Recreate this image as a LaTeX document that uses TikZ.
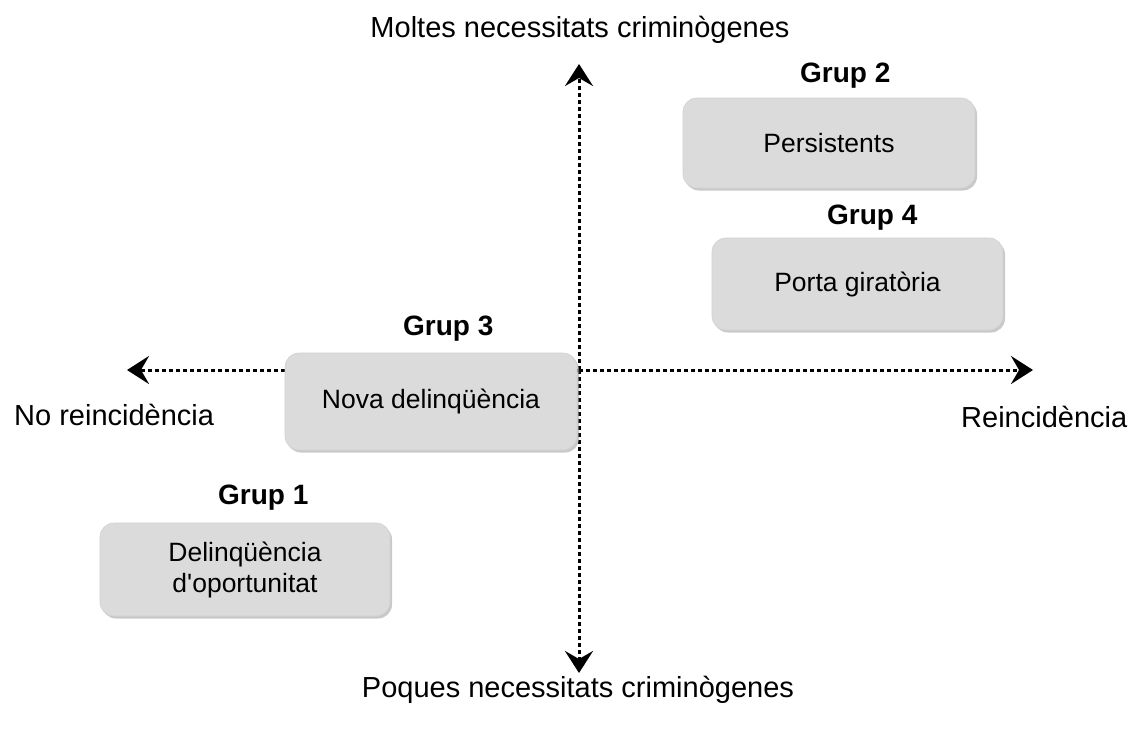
\documentclass[tikz,border=0pt]{standalone}
\usepackage{fontspec}
\setmainfont{Liberation Sans}
\usetikzlibrary{arrows.meta,shadows}
\begin{document}
\begin{tikzpicture}[x=1pt,y=-1pt,
  axis/.style={line width=3pt,dash pattern=on 4pt off 3pt,-{Stealth[length=22pt,width=28pt,inset=8pt]}},
  grbox/.style={fill=black!14,draw=black!18,line width=0.6pt,rounded corners=14pt,
    drop shadow={shadow xshift=2pt,shadow yshift=-2.5pt,fill=black!35,opacity=0.6},
    font=\fontsize{26.5}{31}\selectfont,align=center,inner sep=0pt},
  grtitle/.style={font=\bfseries\fontsize{28}{32}\selectfont,inner sep=0pt,anchor=west},
  lbl/.style={font=\fontsize{29}{33}\selectfont,inner sep=0pt}]
\useasboundingbox (0,0) rectangle (1130,729);
\fill[white] (0,0) rectangle (1130,729);
% axes
\coordinate (c) at (579,370);
\coordinate (top) at (579,64);
\coordinate (bot) at (579,673);
\coordinate (lft) at (127,370);
\coordinate (rgt) at (1033,370);
\draw[axis] (c) -- (top);
\draw[axis] (c) -- (bot);
\draw[axis] (c) -- (lft);
\draw[axis] (c) -- (rgt);
% boxes
\node[grbox,minimum width=292pt,minimum height=90pt] (g2) at (829,143) {Persistents};
\node[grtitle] (t2) at (800,76) {Grup 2};
\node[grbox,minimum width=291pt,minimum height=92pt] (g4) at (857.5,284) {Porta giratòria};
\node[grtitle] (t4) at (827,218) {Grup 4};
\node[grbox,minimum width=292pt,minimum height=97pt] (g3) at (431,401.5) {Nova delinqüència};
\node[grtitle] (t3) at (403,329) {Grup 3};
\node[grbox,minimum width=290pt,minimum height=93pt] (g1) at (245,569.5) {Delinqüència\\d\textquotesingle oportunitat};
\node[grtitle] (t1) at (218,498) {Grup 1};
% axis labels
\node[lbl] (ltop) at (580,30) {Moltes necessitats criminògenes};
\node[lbl] (lbot) at (578,690) {Poques necessitats criminògenes};
\node[lbl,anchor=west] (llft) at (14,415) {No reincidència};
\node[lbl,anchor=west] (lrgt) at (961,417) {Reincidència};
\end{tikzpicture}
\end{document}
